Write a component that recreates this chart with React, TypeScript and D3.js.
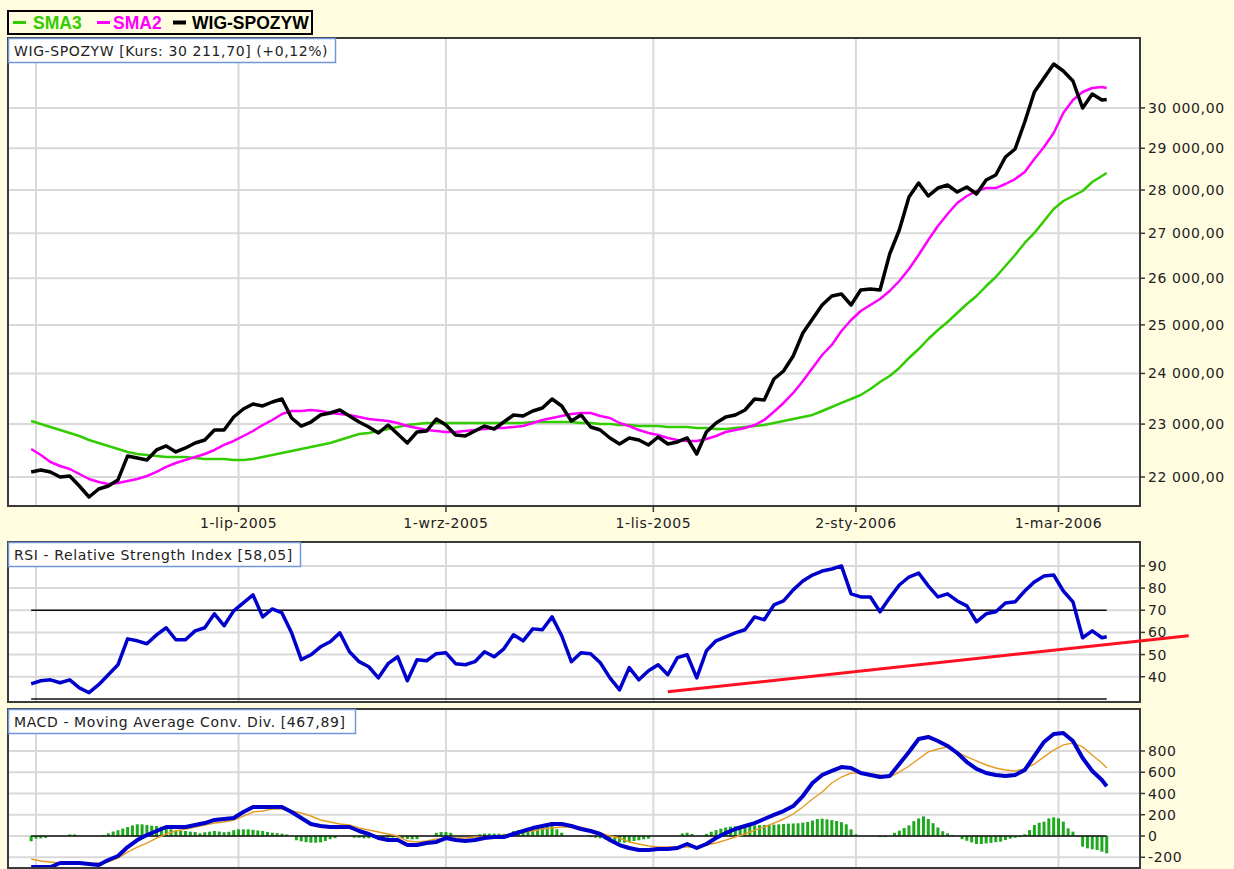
import React from "react";
import * as d3 from "d3";

// sessions (trading days) counted from 29-kwi-2005
const lastSession = 223;
const lineSessions = d3.range(0, lastSession, 2).concat([lastSession]);
const tickSessions = [1, 43, 86, 129, 171, 213];
const tickLabels = ["", "1-lip-2005", "1-wrz-2005", "1-lis-2005", "2-sty-2006", "1-mar-2006"];

const wig = [
  22093, 22130, 22093, 22000, 22018, 21834, 21633, 21779, 21834, 21945,
  22392, 22354, 22317, 22505, 22581, 22467, 22543, 22638, 22695, 22886,
  22886, 23138, 23294, 23392, 23353, 23431, 23490, 23118, 22962, 23040,
  23177, 23216, 23274, 23157, 23040, 22944, 22828, 22982, 22809, 22638,
  22848, 22867, 23099, 22982, 22790, 22771, 22867, 22962, 22905, 23040,
  23177, 23157, 23255, 23313, 23490, 23353, 23060, 23177, 22944, 22886,
  22733, 22619, 22733, 22695, 22600, 22752, 22619, 22657, 22733, 22429,
  22848, 23021, 23138, 23177, 23274, 23490, 23471, 23888, 24050, 24355,
  24830, 25124, 25421, 25614, 25657, 25421, 25744, 25765, 25744, 26534,
  27075, 27836, 28166, 27860, 28047, 28118, 27953, 28071, 27906, 28237,
  28356, 28788, 28982, 29647, 30404, 30764, 31128, 30945, 30686, 29998,
  30353, 30200, 30212,
];

const sma2 = [
  22524, 22410, 22279, 22204, 22148, 22055, 21963, 21908, 21871, 21889,
  21926, 21963, 22018, 22093, 22186, 22260, 22317, 22373, 22429, 22505,
  22600, 22676, 22771, 22867, 22982, 23079, 23196, 23255, 23255, 23274,
  23255, 23216, 23196, 23177, 23138, 23099, 23079, 23060, 23021, 22962,
  22924, 22886, 22867, 22848, 22848, 22867, 22886, 22905, 22924, 22924,
  22944, 22962, 23021, 23079, 23118, 23157, 23196, 23216, 23216, 23157,
  23118, 23021, 22962, 22886, 22828, 22790, 22733, 22695, 22676, 22676,
  22714, 22771, 22848, 22886, 22924, 22982, 23080, 23240, 23412, 23609,
  23848, 24111, 24375, 24581, 24872, 25103, 25293, 25421, 25550, 25722,
  25939, 26202, 26512, 26848, 27166, 27441, 27696, 27860, 27977, 28047,
  28047, 28142, 28260, 28427, 28739, 29031, 29374, 29872, 30200, 30404,
  30506, 30532, 30506,
];

const sma3 = [
  23060, 23001, 22944, 22886, 22828, 22771, 22695, 22638, 22581, 22524,
  22467, 22429, 22410, 22392, 22373, 22373, 22373, 22354, 22335, 22335,
  22335, 22317, 22317, 22335, 22373, 22410, 22448, 22486, 22524, 22562,
  22600, 22638, 22695, 22752, 22809, 22828, 22867, 22905, 22944, 22982,
  23001, 23021, 23021, 23021, 23021, 23021, 23021, 23021, 23021, 23021,
  23021, 23021, 23041, 23041, 23041, 23041, 23041, 23021, 23021, 23001,
  23001, 22982, 22982, 22962, 22962, 22962, 22944, 22944, 22944, 22924,
  22924, 22905, 22905, 22924, 22944, 22962, 22982, 23021, 23060, 23099,
  23138, 23177, 23255, 23333, 23412, 23490, 23569, 23689, 23828, 23949,
  24111, 24314, 24498, 24705, 24893, 25061, 25251, 25443, 25614, 25830,
  26026, 26268, 26512, 26781, 27007, 27280, 27557, 27743, 27860, 27977,
  28189, 28332, 28403,
];

const rsi = [
  36.8, 38.2, 38.6, 37.3, 38.6, 35.0, 32.8, 36.4, 40.9, 45.4,
  57.1, 56.2, 54.9, 58.9, 62.1, 56.7, 56.7, 60.7, 62.1, 68.4,
  63.0, 69.7, 73.3, 76.9, 67.0, 70.6, 68.8, 59.8, 47.7, 49.9,
  53.5, 55.8, 59.8, 51.3, 46.8, 44.5, 39.5, 45.9, 49.0, 38.2,
  47.7, 47.2, 50.4, 50.8, 45.9, 45.4, 46.8, 51.3, 49.0, 52.6,
  58.9, 56.2, 61.6, 61.2, 67.0, 58.5, 46.8, 50.8, 50.4, 46.3,
  39.5, 34.1, 44.1, 38.6, 42.7, 45.4, 40.9, 48.6, 49.9, 39.5,
  51.7, 56.2, 58.0, 59.8, 61.2, 67.0, 65.7, 72.4, 74.2, 79.2,
  83.2, 85.9, 87.7, 88.6, 90.0, 77.4, 76.0, 76.0, 69.3, 75.6,
  81.4, 85.0, 86.8, 81.0, 76.0, 77.4, 74.2, 72.0, 64.8, 68.4,
  69.3, 73.3, 73.8, 78.7, 82.8, 85.5, 85.9, 78.7, 73.8, 57.6,
  60.7, 57.6, 58.05,
];
const rsiLevels = [70, 30];
const rsiTrend = [
  { s: 132, v: 33.2 },
  { s: 240, v: 58.5 },
];

const macd = [
  -292, -292, -292, -254, -254, -254, -264, -273, -226, -188,
  -104, -38, 9, 47, 85, 85, 85, 104, 122, 151,
  160, 169, 226, 273, 273, 273, 273, 226, 169, 113,
  94, 85, 85, 85, 47, 19, -19, -38, -38, -85,
  -85, -66, -56, -19, -38, -47, -38, -19, -9, -9,
  19, 47, 75, 94, 113, 113, 94, 66, 47, 19,
  -38, -85, -113, -132, -132, -122, -122, -113, -75, -113,
  -75, -19, 28, 66, 94, 122, 160, 198, 235, 282,
  376, 499, 574, 612, 649, 640, 593, 574, 555, 565,
  678, 791, 913, 932, 894, 847, 781, 696, 631, 593,
  574, 565, 574, 621, 753, 885, 960, 969, 894, 734,
  612, 527, 467.89,
];

const signal = [
  -216, -235, -245, -254, -254, -264, -264, -254, -245, -207,
  -151, -104, -66, -19, 19, 47, 66, 85, 104, 122,
  132, 151, 188, 226, 235, 254, 254, 235, 216, 188,
  151, 132, 113, 104, 75, 56, 38, 19, 0, -47,
  -56, -47, -28, -28, -19, -19, -9, -9, 0, 9,
  19, 38, 47, 66, 75, 85, 85, 85, 56, 28,
  0, -19, -56, -75, -94, -104, -104, -104, -104, -104,
  -85, -66, -38, -9, 19, 56, 85, 122, 160, 207,
  273, 348, 414, 499, 555, 593, 593, 584, 574, 555,
  602, 659, 725, 791, 819, 838, 791, 744, 706, 668,
  640, 621, 612, 631, 678, 744, 809, 857, 875, 838,
  762, 687, 640,
];

// one bar per session
const histogram = [
  -50, -25, -22, -18, 0, 0, 0, 0, 15, 15,
  0, 0, 0, 0, 0, 10, 25, 42, 54, 70,
  85, 100, 110, 110, 104, 97, 94, 87, 76, 63,
  56, 50, 47, 41, 38, 25, 35, 41, 47, 42,
  36, 40, 55, 63, 63, 63, 58, 52, 48, 38,
  31, 27, 22, 14, 0, -40, -50, -58, -63, -63,
  -60, -47, -30, -20, 0, 0, 0, -16, -16, -22,
  -22, -18, -28, -22, -16, -14, -14, -20, -28, -31,
  -30, 0, 0, 0, 30, 37, 37, 30, 0, 0,
  0, 0, 0, 15, 22, 22, 22, 22, 20, 15,
  45, 55, 60, 65, 72, 78, 88, 95, 110, 63,
  31, 0, 0, 0, 0, 0, -10, -16, -22, -31,
  -40, -50, -60, -63, -55, -47, -40, -31, -25, 0,
  0, 0, 0, 0, 0, 25, 31, 20, 0, 0,
  20, 40, 55, 69, 80, 88, 92, 94, 96, 98,
  100, 102, 104, 106, 107, 110, 113, 116, 118, 120,
  126, 132, 145, 160, 163, 157, 150, 141, 130, 110,
  63, 16, 0, 0, 0, 0, -10, -10, 0, 30,
  50, 75, 100, 140, 165, 185, 160, 120, 80, 45,
  25, 10, 0, -30, -45, -60, -75, -75, -70, -65,
  -58, -53, -38, -25, -16, -10, 16, 56, 103, 125,
  135, 166, 176, 166, 135, 72, 41, -6, -100, -116,
  -125, -132, -147, -163,
];

const priceTicks = d3.range(22000, 30001, 1000);
const rsiTicks = [40, 50, 60, 70, 80, 90];
const macdTicks = [-200, 0, 200, 400, 600, 800];

const legendItems = [
  { label: "SMA3", color: "#33cc00", lineX: 13, textX: 33, width: 3 },
  { label: "SMA2", color: "#ff00ff", lineX: 97, textX: 113, width: 3 },
  { label: "WIG-SPOZYW", color: "#000000", lineX: 173, textX: 192, width: 4 },
];

const W = 1234;
const H = 869;
const PL = 8;
const PR = 1140;
const BG = "#fffce0";
const GRID = "#d9d9d9";
const FRAME = "#3a3a3a";
const FONT = "'DejaVu Sans', Verdana, sans-serif";

const plLocale = d3.formatLocale({
  decimal: ",",
  thousands: " ",
  grouping: [3],
  currency: ["", ""],
  minus: "-",
});
const fmtPrice = plLocale.format(",.2f");
const fmtInt = plLocale.format("d");

export default function App() {
  const x = d3.scaleLinear().domain([-4.8, 229.9]).range([PL, PR]);
  const yMain = d3.scaleLog().domain([21470, 31816]).range([506, 38]);
  const yRsi = d3.scaleLinear().domain([28.6, 100.8]).range([702, 542]);
  const yMacd = d3.scaleLinear().domain([-301, 1195]).range([868, 709]);

  const lineFor = (y: (v: number) => number) =>
    d3
      .line<number>()
      .x((_, i) => x(lineSessions[i]))
      .y((v) => y(v));

  const firstX = x(0);
  const lastX = x(lastSession);

  // grid, frame and right axis of one panel
  const panel = (
    id: string,
    top: number,
    bottom: number,
    y: (v: number) => number,
    ticks: number[],
    fmt: (v: number) => string
  ) => (
    <g>
      <rect x={PL} y={top} width={PR - PL} height={bottom - top} fill="#ffffff" />
      {ticks.map((t) => (
        <line key={id + "h" + t} x1={PL} x2={PR} y1={y(t)} y2={y(t)} stroke={GRID} strokeWidth={2} />
      ))}
      {tickSessions.map((s) => (
        <line key={id + "v" + s} x1={x(s)} x2={x(s)} y1={top} y2={bottom} stroke={GRID} strokeWidth={2} />
      ))}
      {ticks.map((t) => (
        <g key={id + "t" + t}>
          <line x1={PR} x2={PR + 5} y1={y(t)} y2={y(t)} stroke={FRAME} strokeWidth={1.5} />
          <text
            x={PR + 8}
            y={y(t)}
            dy="0.36em"
            fontFamily={FONT}
            fontSize={14}
            letterSpacing={0.6}
            fill="#222"
          >
            {fmt(t)}
          </text>
        </g>
      ))}
      <clipPath id={"clip-" + id}>
        <rect x={PL} y={top} width={PR - PL} height={bottom - top} />
      </clipPath>
    </g>
  );

  const frame = (top: number, bottom: number) => (
    <rect
      x={PL}
      y={top}
      width={PR - PL}
      height={bottom - top}
      fill="none"
      stroke={FRAME}
      strokeWidth={2}
    />
  );

  const titleBox = (label: string, top: number, width: number) => (
    <g>
      <rect x={PL + 0.5} y={top + 0.5} width={width} height={24} fill="#ffffff" stroke="#6f96d8" strokeWidth={1.5} />
      <text x={PL + 6} y={top + 18} fontFamily={FONT} fontSize={14} letterSpacing={0.6} fill="#222">
        {label}
      </text>
    </g>
  );

  const z = yMacd(0);

  return (
    <div style={{ position: "absolute", left: 0, top: 0 }}>
      <svg width={W} height={H} style={{ display: "block" }}>
        <rect x={0} y={0} width={W} height={H} fill={BG} />

        {/* legend */}
        <rect x={8} y={11} width={304} height={23} fill="none" stroke="#000" strokeWidth={2} />
        {legendItems.map((d) => (
          <g key={d.label}>
            <line x1={d.lineX} x2={d.lineX + 13} y1={22.5} y2={22.5} stroke={d.color} strokeWidth={d.width} />
            <text
              x={d.textX}
              y={28.5}
              fontFamily="'Liberation Sans', Arial, sans-serif"
              fontWeight="bold"
              fontSize={17.5}
              fill={d.color}
            >
              {d.label}
            </text>
          </g>
        ))}

        {/* main price panel */}
        {panel("main", 38, 506, yMain, priceTicks, fmtPrice)}
        <g clipPath="url(#clip-main)" fill="none" strokeLinejoin="round">
          <path d={lineFor(yMain)(sma3) || ""} stroke="#33cc00" strokeWidth={2.5} />
          <path d={lineFor(yMain)(sma2) || ""} stroke="#ff00ff" strokeWidth={2.5} />
          <path d={lineFor(yMain)(wig) || ""} stroke="#000000" strokeWidth={3.5} />
        </g>
        {frame(38, 506)}
        {tickSessions.map((s, i) =>
          tickLabels[i] ? (
            <g key={"xl" + s}>
              <line x1={x(s)} x2={x(s)} y1={506} y2={512} stroke={FRAME} strokeWidth={1.5} />
              <text
                x={x(s)}
                y={528}
                textAnchor="middle"
                fontFamily={FONT}
                fontSize={14}
                letterSpacing={0.6}
                fill="#222"
              >
                {tickLabels[i]}
              </text>
            </g>
          ) : null
        )}
        {titleBox("WIG-SPOZYW [Kurs: 30 211,70] (+0,12%)", 38, 327)}

        {/* RSI panel */}
        {panel("rsi", 542, 702, yRsi, rsiTicks, (v) => String(v))}
        {rsiLevels.map((l) => (
          <line key={"lvl" + l} x1={firstX} x2={lastX} y1={yRsi(l)} y2={yRsi(l)} stroke="#111" strokeWidth={1.5} />
        ))}
        <g clipPath="url(#clip-rsi)" fill="none" strokeLinejoin="round">
          <path d={lineFor(yRsi)(rsi) || ""} stroke="#0000cc" strokeWidth={3.5} />
        </g>
        {frame(542, 702)}
        {titleBox("RSI - Relative Strength Index [58,05]", 542, 292)}

        {/* MACD panel */}
        {panel("macd", 709, 868, yMacd, macdTicks, fmtInt)}
        <g clipPath="url(#clip-macd)">
          {histogram.map((v, s) => (
            <rect
              key={"hb" + s}
              x={x(s) - 1.5}
              width={3}
              y={yMacd(Math.max(0, v))}
              height={Math.abs(yMacd(v) - z)}
              fill="#1ea81e"
            />
          ))}
          <line x1={firstX} x2={lastX} y1={z} y2={z} stroke="#111" strokeWidth={1.5} />
          <path d={lineFor(yMacd)(signal) || ""} fill="none" stroke="#e59b22" strokeWidth={1.4} />
          <path d={lineFor(yMacd)(macd) || ""} fill="none" stroke="#0000cc" strokeWidth={4} strokeLinejoin="round" />
        </g>
        {frame(709, 868)}
        {titleBox("MACD - Moving Average Conv. Div. [467,89]", 709, 347)}

        {/* RSI trend line, runs past the frame */}
        <line
          x1={x(rsiTrend[0].s)}
          y1={yRsi(rsiTrend[0].v)}
          x2={x(rsiTrend[1].s)}
          y2={yRsi(rsiTrend[1].v)}
          stroke="#ff1020"
          strokeWidth={3}
        />
      </svg>
    </div>
  );
}
